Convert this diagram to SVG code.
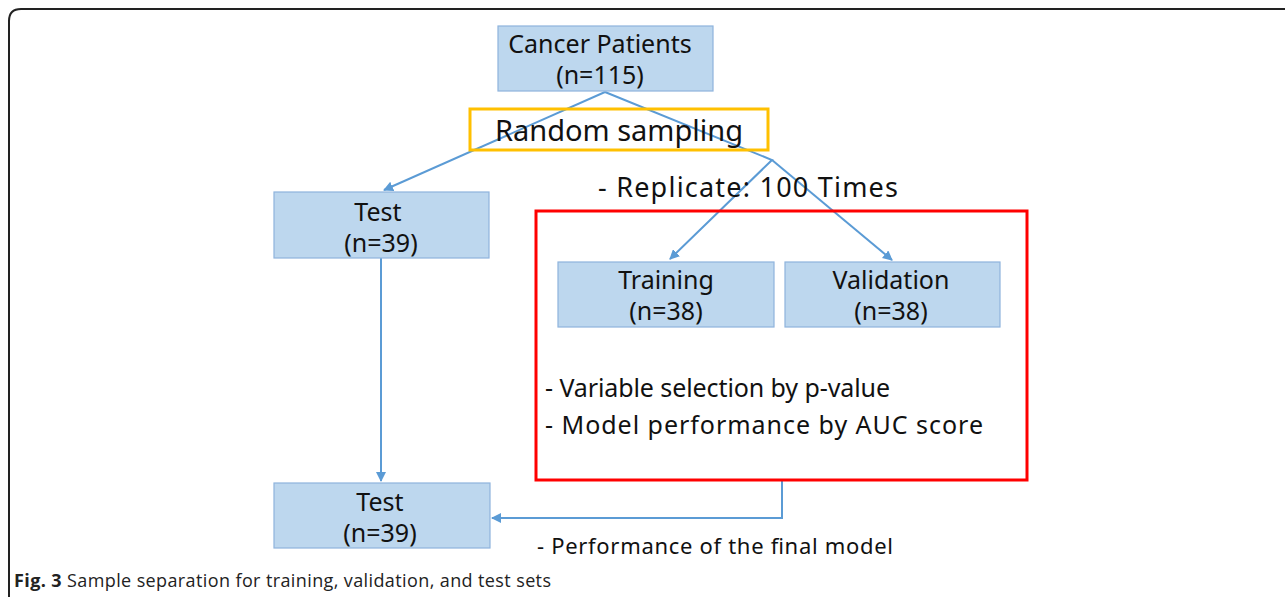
<svg xmlns="http://www.w3.org/2000/svg" width="1285" height="597" viewBox="0 0 1285 597">
  <style>
    .box { fill: #BDD7EE; stroke: #8EB3DD; stroke-width: 1.2; }
    .lbl { font-family: "Noto Sans", "Open Sans", sans-serif; font-size: 25px; fill: #111; text-anchor: middle; }
    .note { font-family: "Noto Sans", "Open Sans", sans-serif; font-size: 25px; fill: #111; }
    .link { fill: none; stroke: #5B9BD5; stroke-width: 2; }
    .cap { font-family: "Open Sans", "Liberation Sans", sans-serif; font-size: 18px; fill: #222; }
  </style>
  <defs>
    <marker id="arr" viewBox="0 0 10 10" refX="9" refY="5" markerWidth="5" markerHeight="5" orient="auto" markerUnits="strokeWidth">
      <path d="M0,0 L10,5 L0,10 Z" fill="#5B9BD5"/>
    </marker>
  </defs>
  <rect width="1285" height="597" fill="#fff"/>

  <!-- figure frame (top and left edges) -->
  <path d="M9,597 L9,21 Q9,9 21,9 L1285,9" fill="none" stroke="#222" stroke-width="2"/>

  <!-- connectors -->
  <g id="connectors">
    <line class="link" x1="605" y1="92" x2="384" y2="190" marker-end="url(#arr)"/>
    <polyline class="link" points="605,92 772,160 670,259" marker-end="url(#arr)"/>
    <line class="link" x1="772" y1="160" x2="892" y2="260" marker-end="url(#arr)"/>
    <line class="link" x1="381" y1="258" x2="381" y2="481" marker-end="url(#arr)"/>
    <polyline class="link" points="782,481 782,518 492,518" marker-end="url(#arr)"/>
  </g>

  <g id="cancer-patients">
    <rect class="box" x="498" y="26" width="215" height="65"/>
    <text class="lbl" x="600" y="53">Cancer Patients</text>
    <text class="lbl" x="600" y="84">(n=115)</text>
  </g>

  <g id="random-sampling">
    <rect x="470" y="109" width="298" height="41" fill="none" stroke="#FFC000" stroke-width="3"/>
    <text class="lbl" x="619" y="141" style="font-size:29px">Random sampling</text>
  </g>

  <g id="test-split">
    <rect class="box" x="274" y="192" width="215" height="66"/>
    <text class="lbl" x="378" y="221">Test</text>
    <text class="lbl" x="381" y="252">(n=39)</text>
  </g>

  <g id="replicate-label">
    <text class="note" x="598" y="197" style="font-size:27px" textLength="300" lengthAdjust="spacing">- Replicate: 100 Times</text>
  </g>

  <g id="replicate-block">
    <rect x="536" y="211" width="491" height="269" fill="none" stroke="#FF0000" stroke-width="3"/>
    <text class="note" x="545" y="397" textLength="345" lengthAdjust="spacing">- Variable selection by p-value</text>
    <text class="note" x="545" y="434" textLength="438" lengthAdjust="spacing">- Model performance by AUC score</text>
  </g>

  <g id="training">
    <rect class="box" x="558" y="262" width="216" height="65"/>
    <text class="lbl" x="666" y="289">Training</text>
    <text class="lbl" x="666" y="320">(n=38)</text>
  </g>

  <g id="validation">
    <rect class="box" x="785" y="262" width="215" height="65"/>
    <text class="lbl" x="891" y="289">Validation</text>
    <text class="lbl" x="891" y="320">(n=38)</text>
  </g>

  <g id="test-final">
    <rect class="box" x="274" y="483" width="216" height="65"/>
    <text class="lbl" x="380" y="511">Test</text>
    <text class="lbl" x="380" y="542">(n=39)</text>
  </g>

  <g id="final-label">
    <text class="note" x="537" y="554" style="font-size:22px" textLength="356" lengthAdjust="spacing">- Performance of the final model</text>
  </g>

  <text class="cap" x="14" y="587" textLength="537" lengthAdjust="spacing"><tspan font-weight="bold">Fig. 3</tspan> Sample separation for training, validation, and test sets</text>
</svg>
